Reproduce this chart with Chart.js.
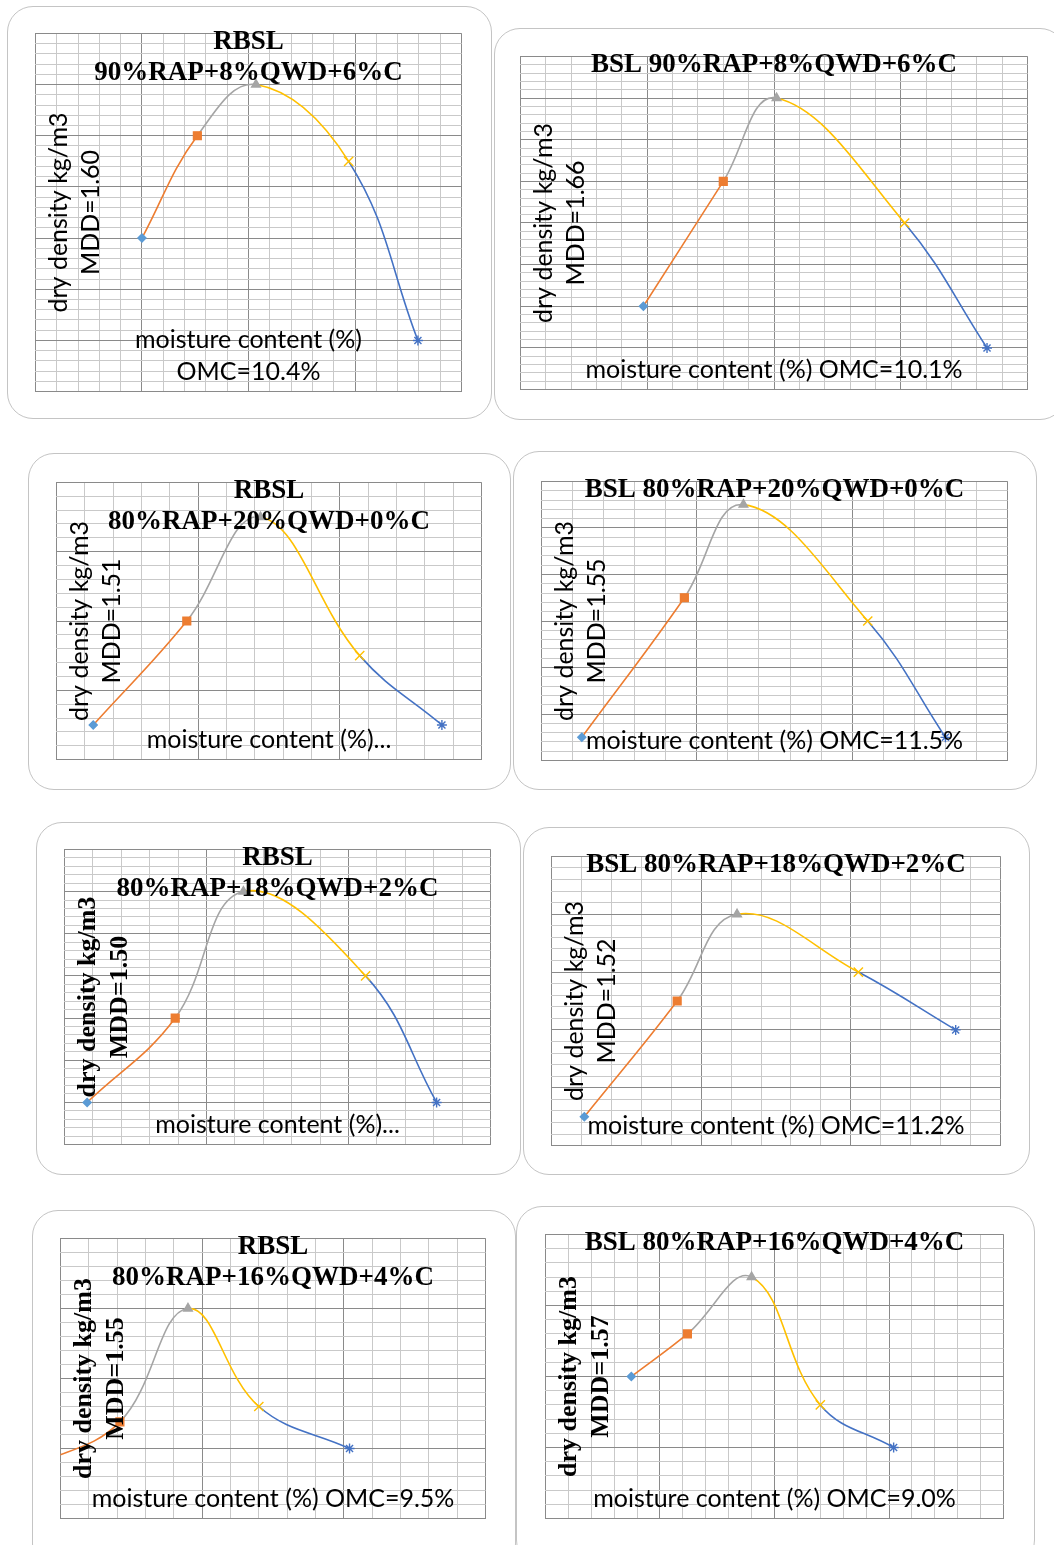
<!DOCTYPE html>
<html>
<head>
<meta charset="utf-8">
<script src="https://cdn.jsdelivr.net/npm/chart.js@4.4.1/dist/chart.umd.min.js"></script>
<style>
  html, body { margin: 0; padding: 0; background: #fff; }
  body { width: 1054px; height: 1545px; position: relative; overflow: hidden; }
  .card { position: absolute; border: 1.5px solid #c4c4c4; border-radius: 26px; background: #fff; box-sizing: border-box; }
  canvas { position: absolute; }
</style>
</head>
<body>
<script>
// compaction curves: moisture content (%) vs dry density, one list pair per mix
const rbsl90Moisture = [5.0, 7.6, 10.35, 14.7, 17.95];
const rbsl90Density  = [1.54, 1.58, 1.60, 1.57, 1.50];
const bsl90Moisture  = [4.85, 8.0, 10.1, 15.15, 18.4];
const bsl90Density   = [1.56, 1.62, 1.66, 1.60, 1.54];
const rbsl80q20Moisture = [6.3, 9.6, 12.2, 15.7, 18.6];
const rbsl80q20Density  = [1.45, 1.48, 1.51, 1.47, 1.45];
const bsl80q20Moisture  = [6.3, 9.6, 11.5, 15.5, 18.0];
const bsl80q20Density   = [1.45, 1.51, 1.55, 1.50, 1.45];
const rbsl80q18Moisture = [5.8, 8.9, 11.3, 15.6, 18.1];
const rbsl80q18Density  = [1.40, 1.44, 1.50, 1.46, 1.40];
const bsl80q18Moisture  = [6.1, 9.2, 11.2, 15.25, 18.5];
const bsl80q18Density   = [1.45, 1.49, 1.52, 1.50, 1.48];
const rbsl80q16Moisture = [4.0, 7.1, 9.5, 12.0, 15.2];
const rbsl80q16Density  = [1.437, 1.469, 1.55, 1.48, 1.45];
const bsl80q16Moisture  = [3.75, 6.2, 9.0, 12.0, 15.2];
const bsl80q16Density   = [1.50, 1.53, 1.57, 1.48, 1.45];

// axis ranges [min, max, major intervals], 5 minor lines per major
const xAxes = [[0, 20, 4], [0, 20, 4], [5, 20, 3], [5, 20, 3], [5, 20, 3], [5, 20, 3], [5, 20, 3], [0, 20, 4]];
const yAxes = [[1.48, 1.62, 7], [1.52, 1.68, 8], [1.44, 1.52, 4], [1.44, 1.56, 6],
               [1.38, 1.52, 7], [1.44, 1.54, 5], [1.40, 1.60, 4], [1.40, 1.60, 4]];

const titles = [
    ['RBSL', '90%RAP+8%QWD+6%C'],
    ['BSL 90%RAP+8%QWD+6%C'],
    ['RBSL', '80%RAP+20%QWD+0%C'],
    ['BSL 80%RAP+20%QWD+0%C'],
    ['RBSL', '80%RAP+18%QWD+2%C'],
    ['BSL 80%RAP+18%QWD+2%C'],
    ['RBSL', '80%RAP+16%QWD+4%C'],
    ['BSL 80%RAP+16%QWD+4%C']
];
const mddLabels = ['MDD=1.60', 'MDD=1.66', 'MDD=1.51', 'MDD=1.55', 'MDD=1.50', 'MDD=1.52', 'MDD=1.55', 'MDD=1.57'];
const xTitles = [
    ['moisture content (%)', 'OMC=10.4%'],
    ['moisture content (%) OMC=10.1%'],
    ['moisture content (%)...'],
    ['moisture content (%) OMC=11.5%'],
    ['moisture content (%)...'],
    ['moisture content (%) OMC=11.2%'],
    ['moisture content (%) OMC=9.5%'],
    ['moisture content (%) OMC=9.0%']
];

const moistureSets = [rbsl90Moisture, bsl90Moisture, rbsl80q20Moisture, bsl80q20Moisture,
                      rbsl80q18Moisture, bsl80q18Moisture, rbsl80q16Moisture, bsl80q16Moisture];
const densitySets = [rbsl90Density, bsl90Density, rbsl80q20Density, bsl80q20Density,
                     rbsl80q18Density, bsl80q18Density, rbsl80q16Density, bsl80q16Density];

// page layout (px): rounded card box and plot area for each panel
const cards = [[7, 6, 485, 413], [494, 28, 572, 392], [28, 453, 483, 337], [513, 451, 524, 339],
               [36, 822, 485, 353], [523, 827, 507, 348], [32, 1210, 484, 360], [516, 1206, 519, 360]];
const plots = [[35, 33, 427, 359], [520, 56, 508, 334], [56, 482, 426, 278], [541, 481, 467, 280],
               [64, 849, 427, 296], [551, 856, 450, 290], [60, 1238, 426, 281], [545, 1234, 459, 285]];
const serifYTitle = [false, false, false, false, true, false, true, true];

const pointColors = ['#5B9BD5', '#ED7D31', '#A5A5A5', '#FFC000', '#4472C4'];
const pointStyles = ['rectRot', 'rect', 'triangle', 'crossRot', 'star'];
const pointSizes = [4, 5.5, 5, 6.5, 5];

const TITLE_FONT = 'bold 27px "Liberation Serif"';
const SANS_FONT = '25px Lato';
const SERIF_Y_FONT = 'bold 26px "Liberation Serif"';
const PAD = 6;

function axis([min, max, majors]) {
    const count = majors * 5;
    return {
        type: 'linear',
        min: min,
        max: max,
        ticks: { display: false },
        afterBuildTicks: scale => {
            scale.ticks = Array.from({ length: count + 1 }, (_, i) => ({ value: min + (max - min) * i / count }));
        },
        grid: {
            color: ctx => ctx.index % 5 === 0 ? '#8a8a8a' : '#c9c9c9',
            lineWidth: 1,
            drawTicks: false
        },
        border: { display: false }
    };
}

function textPlugin(i) {
    return {
        id: 'panelText' + i,
        afterDraw(chart) {
            const { ctx, chartArea: a } = chart;
            const cx = (a.left + a.right) / 2;
            const cy = (a.top + a.bottom) / 2;
            ctx.save();
            ctx.fillStyle = '#000';
            ctx.textAlign = 'center';
            ctx.textBaseline = 'alphabetic';

            ctx.font = TITLE_FONT;
            titles[i].forEach((t, k) => ctx.fillText(t, cx, a.top + 16 + k * 31));

            ctx.font = SANS_FONT;
            const n = xTitles[i].length;
            xTitles[i].forEach((t, k) => ctx.fillText(t, cx, a.bottom - 12 - (n - 1 - k) * 32));

            ctx.font = serifYTitle[i] ? SERIF_Y_FONT : SANS_FONT;
            ctx.textBaseline = 'middle';
            ctx.translate(a.left, cy);
            ctx.rotate(-Math.PI / 2);
            ['dry density kg/m3', mddLabels[i]].forEach((t, k) => ctx.fillText(t, 0, 24 + k * 32));
            ctx.restore();
        }
    };
}

cards.forEach(c => {
    const div = document.createElement('div');
    div.className = 'card';
    div.style.left = c[0] + 'px';
    div.style.top = c[1] + 'px';
    div.style.width = c[2] + 'px';
    div.style.height = c[3] + 'px';
    document.body.appendChild(div);
});

plots.forEach((p, i) => {
    const canvas = document.createElement('canvas');
    canvas.width = p[2] + PAD * 2;
    canvas.height = p[3] + PAD * 2;
    canvas.style.left = (p[0] - PAD) + 'px';
    canvas.style.top = (p[1] - PAD) + 'px';
    document.body.appendChild(canvas);

    new Chart(canvas, {
        type: 'line',
        data: {
            datasets: [{
                data: moistureSets[i].map((m, k) => ({ x: m, y: densitySets[i][k] })),
                borderWidth: 1.6,
                borderColor: pointColors[1],
                tension: 0.4,
                clip: 0,
                segment: { borderColor: ctx => pointColors[ctx.p1DataIndex] },
                pointStyle: pointStyles,
                pointRadius: pointSizes,
                pointBackgroundColor: pointColors,
                pointBorderColor: pointColors,
                pointBorderWidth: 1.4
            }]
        },
        options: {
            responsive: false,
            animation: false,
            events: [],
            layout: { padding: PAD },
            plugins: { legend: { display: false }, tooltip: { enabled: false } },
            scales: { x: axis(xAxes[i]), y: axis(yAxes[i]) }
        },
        plugins: [textPlugin(i)]
    });
});
</script>
</body>
</html>
